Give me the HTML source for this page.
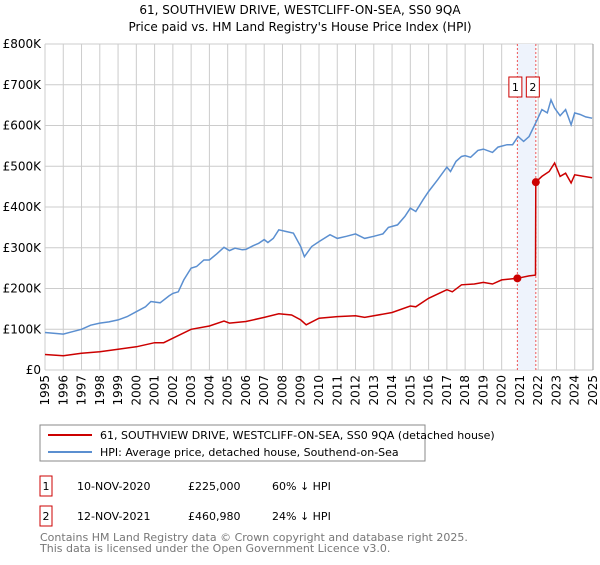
<!DOCTYPE html>
<html><head><meta charset="utf-8"><style>
body{margin:0;background:#fff;font-family:"Liberation Sans","DejaVu Sans",sans-serif}
svg text{font-family:"DejaVu Sans","Liberation Sans",sans-serif}
</style></head><body>
<svg id="c" width="600" height="560" xmlns="http://www.w3.org/2000/svg">
<text x="300" y="14" text-anchor="middle" font-size="12">61, SOUTHVIEW DRIVE, WESTCLIFF-ON-SEA, SS0 9QA</text>
<text x="300" y="31" text-anchor="middle" font-size="12">Price paid vs. HM Land Registry's House Price Index (HPI)</text>
<g id="grid"></g><g id="marks"></g><g id="axes"></g>
<rect x="40" y="425" width="385" height="36" fill="#fff" stroke="#888"/>
<line x1="48" y1="435" x2="92" y2="435" stroke="#cc0000" stroke-width="2"/>
<text x="100" y="439" font-size="11">61, SOUTHVIEW DRIVE, WESTCLIFF-ON-SEA, SS0 9QA (detached house)</text>
<line x1="48" y1="452" x2="92" y2="452" stroke="#5b8fd0" stroke-width="2"/>
<text x="100" y="456" font-size="11">HPI: Average price, detached house, Southend-on-Sea</text>
<g>
<rect x="40" y="476" width="12" height="20" fill="#fff" stroke="#cc0000"/><text x="46" y="490" font-size="11" text-anchor="middle">1</text>
<text x="77" y="490" font-size="11">10-NOV-2020</text><text x="188" y="490" font-size="11">£225,000</text><text x="272" y="490" font-size="11">60% ↓ HPI</text></g>
<g>
<rect x="40" y="506" width="12" height="20" fill="#fff" stroke="#cc0000"/><text x="46" y="520" font-size="11" text-anchor="middle">2</text>
<text x="77" y="520" font-size="11">12-NOV-2021</text><text x="188" y="520" font-size="11">£460,980</text><text x="272" y="520" font-size="11">24% ↓ HPI</text></g>
<text x="40" y="541" font-size="11" fill="#777">Contains HM Land Registry data © Crown copyright and database right 2025.</text>
<text x="40" y="552" font-size="11" fill="#777">This data is licensed under the Open Government Licence v3.0.</text>
</svg>
<script>
const yTicks=[0,100,200,300,400,500,600,700,800];
const yTickLabels=["£0","£100K","£200K","£300K","£400K","£500K","£600K","£700K","£800K"];
const xYears=[1995,1996,1997,1998,1999,2000,2001,2002,2003,2004,2005,2006,2007,2008,2009,2010,2011,2012,2013,2014,2015,2016,2017,2018,2019,2020,2021,2022,2023,2024,2025];
const hpiDates=[1995,1996,1996.5,1997,1997.5,1998,1998.5,1999,1999.5,2000,2000.5,2000.8,2001.3,2001.8,2002,2002.3,2002.6,2003,2003.3,2003.7,2004,2004.4,2004.8,2005.1,2005.4,2005.8,2006,2006.4,2006.7,2007,2007.2,2007.5,2007.8,2008.2,2008.6,2009,2009.2,2009.6,2010,2010.6,2011,2011.5,2012,2012.5,2013,2013.5,2013.8,2014.3,2014.7,2015,2015.3,2015.7,2016,2016.5,2017,2017.2,2017.5,2017.8,2018,2018.3,2018.7,2019,2019.5,2019.8,2020.3,2020.6,2020.9,2021.2,2021.5,2021.9,2022.2,2022.5,2022.7,2022.9,2023.2,2023.5,2023.8,2024,2024.3,2024.6,2024.95];
const hpiValues=[92,88,94,100,110,115,118,123,131,143,155,168,165,182,188,192,221,250,254,270,270,285,301,293,299,295,296,305,311,320,313,323,344,340,336,303,278,303,315,332,323,328,334,323,328,334,350,356,377,397,389,418,438,467,498,487,512,524,526,522,539,542,534,547,553,553,573,561,573,610,639,631,663,643,624,639,602,631,627,621,618];
const priceDates=[1995,1996,1997,1998,1999,2000,2001,2001.5,2002,2003,2004,2004.8,2005.1,2006,2007,2007.8,2008.5,2009,2009.3,2010,2011,2012,2012.5,2013,2014,2015,2015.3,2016,2017,2017.3,2017.8,2018.5,2019,2019.5,2020,2020.86,2021.5,2021.85,2021.87,2022.2,2022.6,2022.9,2023.2,2023.5,2023.8,2024,2024.5,2024.95];
const priceValues=[38,35,41,45,51,57,67,67,78,100,108,120,115,119,129,138,135,123,111,127,131,133,129,133,141,157,155,176,197,192,209,211,215,211,221,225,231,233,461,475,487,508,475,483,459,479,475,472];
const saleDates=[2020.86,2021.87];
const saleValues=[225,460.98];
const saleLabels=["1","2"];
const NS="http://www.w3.org/2000/svg";
const X0=45,X1=593,Y0=370,Y1=44;
const xs=t=>X0+(t-1995)/30*(X1-X0);
const ys=v=>Y0-v/800*(Y0-Y1);
function mk(p,tag,a){const e=document.createElementNS(NS,tag);for(const k in a)e.setAttribute(k,a[k]);p.appendChild(e);return e;}
const grid=document.getElementById('grid'),marks=document.getElementById('marks'),axes=document.getElementById('axes');
yTicks.forEach((v,i)=>{const l=mk(grid,'line',{x1:X0,x2:X1,y1:ys(v),y2:ys(v),stroke:'#ccc'});


const t=mk(axes,'text',{x:X0-4,y:ys(v)+4,'text-anchor':'end','font-size':12});t.textContent=yTickLabels[i];

});
xYears.forEach(y=>{const l=mk(grid,'line',{x1:xs(y),x2:xs(y),y1:Y1,y2:Y0,stroke:'#ccc'});


const t=mk(axes,'text',{transform:`translate(${xs(y)+4},${Y0+5}) rotate(-90)`,'text-anchor':'end','font-size':12});t.textContent=y;

});
const sh=mk(marks,'rect',{x:xs(saleDates[0]),y:Y1,width:xs(saleDates[1])-xs(saleDates[0]),height:Y0-Y1,fill:'#eef3fc'});


saleDates.forEach(d=>{const l=mk(marks,'line',{x1:xs(d),x2:xs(d),y1:Y1,y2:Y0,stroke:'#ee5555','stroke-dasharray':'2,2'});

});
function path(ds,vs,col,name){const p=mk(marks,'path',{d:ds.map((d,i)=>(i?'L':'M')+xs(d).toFixed(1)+','+ys(vs[i]).toFixed(1)).join(''),fill:'none',stroke:col,'stroke-width':1.5});

}
path(hpiDates,hpiValues,'#5b8fd0','hpi-line');
path(priceDates,priceValues,'#cc0000','price-line');
const boxOff=[-8.5,-9.5];
saleDates.forEach((d,i)=>{const c=mk(marks,'circle',{cx:xs(d),cy:ys(saleValues[i]),r:4,fill:'#cc0000'});


const g=mk(marks,'g',{});


const bx=xs(d)+boxOff[i];
mk(g,'rect',{x:bx,y:77,width:13,height:20,fill:'#fff',stroke:'#cc0000'});
const t=mk(g,'text',{x:bx+6.5,y:91,'text-anchor':'middle','font-size':11});t.textContent=saleLabels[i];});
const ax=mk(axes,'line',{x1:X1,x2:X1,y1:Y1,y2:Y0,stroke:'#999'});


</script>
</body></html>
